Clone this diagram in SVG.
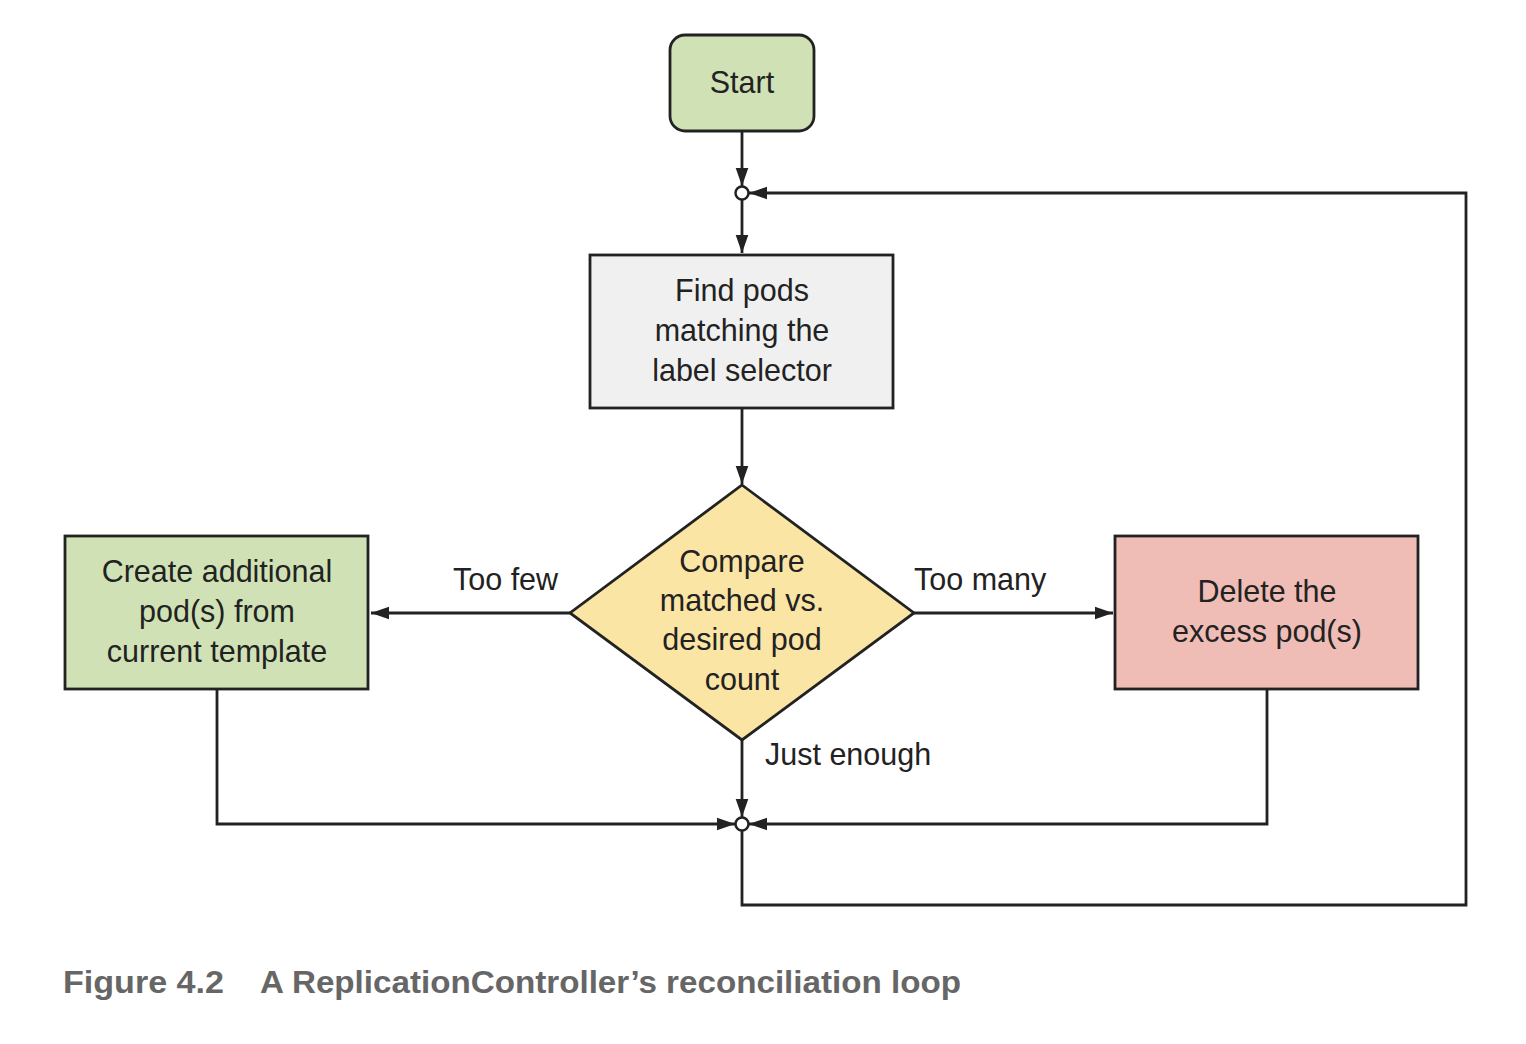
<svg xmlns="http://www.w3.org/2000/svg" width="1526" height="1044" viewBox="0 0 1526 1044">
<defs>
<marker id="ah" viewBox="0 0 10 10" refX="10" refY="5" markerWidth="18" markerHeight="18" markerUnits="userSpaceOnUse" orient="auto">
<path d="M0,1.5 L10,5 L0,8.5 z" fill="#222"/>
</marker>
<style>
.box{stroke:#222;stroke-width:2.8}
.t{font-family:"Liberation Sans",Arial,sans-serif;font-size:30.5px;fill:#222;text-anchor:middle}
.l{font-family:"Liberation Sans",Arial,sans-serif;font-size:30.5px;fill:#222}
.c{fill:none;stroke:#222;stroke-width:2.8}
.cap{font-family:"Liberation Sans",Arial,sans-serif;font-size:32px;font-weight:bold;fill:#666}
</style>
</defs>
<rect width="1526" height="1044" fill="#fff"/>
<g id="connectors">
<line class="c" x1="742" y1="131" x2="742" y2="186" marker-end="url(#ah)"/>
<line class="c" x1="742" y1="200" x2="742" y2="253" marker-end="url(#ah)"/>
<line class="c" x1="742" y1="408" x2="742" y2="484" marker-end="url(#ah)"/>
<line class="c" x1="570" y1="613" x2="371" y2="613" marker-end="url(#ah)"/>
<line class="c" x1="914" y1="613" x2="1113" y2="613" marker-end="url(#ah)"/>
<line class="c" x1="742" y1="740" x2="742" y2="817" marker-end="url(#ah)"/>
<polyline class="c" points="217,689 217,824 735,824" marker-end="url(#ah)"/>
<polyline class="c" points="1267,689 1267,824 749,824" marker-end="url(#ah)"/>
<polyline class="c" points="742,831 742,905 1466,905 1466,193 749,193" marker-end="url(#ah)"/>
<circle cx="742" cy="193" r="6.5" fill="#fff" stroke="#222" stroke-width="2.5"/>
<circle cx="742" cy="824" r="6.5" fill="#fff" stroke="#222" stroke-width="2.5"/>
<text class="l" x="453" y="590">Too few</text>
<text class="l" x="914" y="590">Too many</text>
<text class="l" x="765" y="765">Just enough</text>
</g>
<g id="start">
<rect class="box" x="670" y="35" width="144" height="96" rx="15" fill="#cfe1b5"/>
<text class="t" x="742" y="93">Start</text>
</g>
<g id="find">
<rect class="box" x="590" y="255" width="303" height="153" fill="#f0f0f0"/>
<text class="t" x="742" y="301">Find pods</text>
<text class="t" x="742" y="341">matching the</text>
<text class="t" x="742" y="381">label selector</text>
</g>
<g id="compare">
<polygon class="box" points="742,485 914,613 742,740 570,613" fill="#fbe5a5"/>
<text class="t" x="742" y="572">Compare</text>
<text class="t" x="742" y="611">matched vs.</text>
<text class="t" x="742" y="650">desired pod</text>
<text class="t" x="742" y="690">count</text>
</g>
<g id="create">
<rect class="box" x="65" y="536" width="303" height="153" fill="#d0e2b5"/>
<text class="t" x="217" y="582">Create additional</text>
<text class="t" x="217" y="622">pod(s) from</text>
<text class="t" x="217" y="662">current template</text>
</g>
<g id="delete">
<rect class="box" x="1115" y="536" width="303" height="153" fill="#efbcb6"/>
<text class="t" x="1267" y="602">Delete the</text>
<text class="t" x="1267" y="642">excess pod(s)</text>
</g>
<g id="caption">
<text class="cap" x="63" y="993" textLength="161" lengthAdjust="spacingAndGlyphs">Figure 4.2</text>
<text class="cap" x="260" y="993" textLength="701" lengthAdjust="spacingAndGlyphs">A ReplicationController’s reconciliation loop</text>
</g>
</svg>
